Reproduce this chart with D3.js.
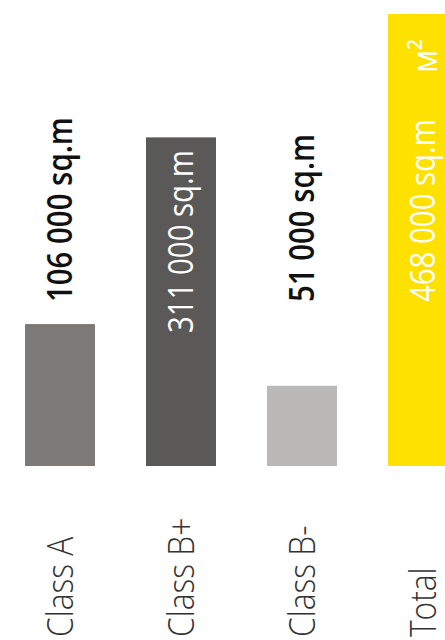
<!DOCTYPE html>
<html>
<head>
<meta charset="utf-8">
<script src="https://cdn.jsdelivr.net/npm/d3@7"></script>
<style>
  html, body { margin: 0; padding: 0; background: #ffffff; }
  svg { display: block; }
</style>
</head>
<body>
<svg id="chart" width="445" height="640"></svg>
<script>
// Office stock by class, square metres
const categories = ["Class A", "Class B+", "Class B-", "Total"];
const values = [106000, 311000, 51000, 468000];
const valueLabels = ["106 000 sq.m", "311 000 sq.m", "51 000 sq.m", "468 000 sq.m"];
const barColors = ["#7d7977", "#5b5957", "#bab9b7", "#ffe100"];
const unitLabel = "м²";

const chartW = 445, chartH = 640;
const baseY = 466, topY = 14;
const fontFamily = "'Open Sans', 'Noto Sans', 'DejaVu Sans', sans-serif";

const svg = d3.select("#chart");

const x = d3.scaleBand()
  .domain(categories)
  .range([25, 458])
  .paddingInner(51 / 121)
  .paddingOuter(0);

const y = d3.scalePow()
  .exponent(0.78)
  .domain([0, d3.max(values)])
  .range([baseY, topY]);

const data = categories.map((c, i) => ({
  category: c,
  value: values[i],
  label: valueLabels[i],
  color: barColors[i],
  inside: c === "Class B+" || c === "Total"
}));

// bars
svg.append("g")
  .selectAll("rect")
  .data(data)
  .join("rect")
  .attr("x", d => x(d.category))
  .attr("y", d => y(d.value))
  .attr("width", x.bandwidth())
  .attr("height", d => baseY - y(d.value))
  .attr("fill", d => d.color);

const cx = d => x(d.category) + x.bandwidth() / 2;

// rotated text helper, squeezed along the reading direction
function rotText(g, tx, ty, squeeze) {
  return g.attr("transform", `translate(${tx},${ty}) rotate(-90) scale(${squeeze},1)`);
}

// value labels
const valueStart = d => d.category === "Class B+" ? 333 : 302;
svg.append("g")
  .selectAll("text")
  .data(data)
  .join("text")
  .each(function (d) {
    rotText(d3.select(this), cx(d) + 12, valueStart(d), 0.84);
  })
  .attr("text-anchor", "start")
  .attr("font-family", fontFamily)
  .attr("font-size", 35)
  .attr("font-weight", d => d.inside ? 400 : 600)
  .attr("fill", d => d.inside ? "#ffffff" : "#111111")
  .text(d => d.label);

// unit marker on the total bar
const total = data[data.length - 1];
rotText(svg.append("text"), cx(total) + 14, 73, 0.9)
  .attr("text-anchor", "start")
  .attr("font-family", fontFamily)
  .attr("font-size", 35)
  .attr("font-weight", 400)
  .attr("fill", "#ffffff")
  .text(unitLabel);

// category labels along the bottom
svg.append("g")
  .selectAll("text")
  .data(data)
  .join("text")
  .each(function (d) {
    rotText(d3.select(this), cx(d) + 13, 637, 0.88);
  })
  .attr("text-anchor", "start")
  .attr("font-family", fontFamily)
  .attr("font-size", 36)
  .attr("font-weight", 300)
  .attr("fill", "#333333")
  .text(d => d.category);
</script>
</body>
</html>
